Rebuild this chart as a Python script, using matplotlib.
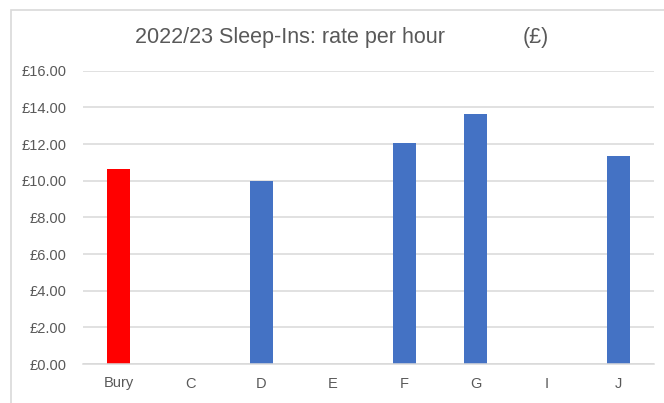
import matplotlib.pyplot as plt
from matplotlib.patches import Rectangle
from matplotlib.ticker import FuncFormatter

# Sleep-in hourly rates by authority, 2022/23
areas = ["Bury", "C", "D", "E", "F", "G", "I", "J"]
rates = [10.62, 0, 10.00, 0, 12.03, 13.63, 0, 11.36]
colours = ["#FF0000", "#4472C4", "#4472C4", "#4472C4",
           "#4472C4", "#4472C4", "#4472C4", "#4472C4"]

plt.rcParams['font.family'] = ['Liberation Sans', 'DejaVu Sans']
grey_text = "#595959"
grid_col = "#D9D9D9"

fig = plt.figure(figsize=(6.64, 4.03), dpi=100)
W, H = 664, 403

# chart area frame (top and left edges visible)
fig.patches.append(Rectangle((11 / W, -0.1), 1.2, (H - 10) / H + 0.1,
                             transform=fig.transFigure, fill=False,
                             edgecolor=grid_col, linewidth=1.2))

ax = fig.add_axes([83 / W, 1 - 364 / H, (654 - 83) / W, (364 - 70.7) / H])
x = range(len(areas))
ax.bar(x, rates, width=0.32, color=colours, zorder=3)

ax.set_ylim(0, 16)
ax.set_xlim(-0.5, len(areas) - 0.5)
ax.set_yticks(range(0, 17, 2))
ax.yaxis.set_major_formatter(FuncFormatter(lambda v, p: f"£{v:.2f}"))
ax.set_xticks(list(x))
ax.set_xticklabels(areas)

ax.grid(axis='y', color=grid_col, linewidth=1.1, zorder=0)
for side in ['top', 'right', 'left']:
    ax.spines[side].set_visible(False)
ax.spines['bottom'].set_color(grid_col)
ax.spines['bottom'].set_linewidth(1.1)
ax.spines['bottom'].set_zorder(4)
ax.tick_params(axis='both', length=0, labelsize=10.5, labelcolor=grey_text)
ax.tick_params(axis='y', pad=12)
ax.tick_params(axis='x', pad=9)

# title in two pieces: the heading and the currency unit
fig.text(135 / W, 1 - 38 / H, "2022/23 Sleep-Ins: rate per hour",
         ha='left', va='center', fontsize=15.5, color=grey_text)
fig.text(523 / W, 1 - 38 / H, "(£)",
         ha='left', va='center', fontsize=15.5, color=grey_text)

fig.savefig("out.png", dpi=100, facecolor="white")
